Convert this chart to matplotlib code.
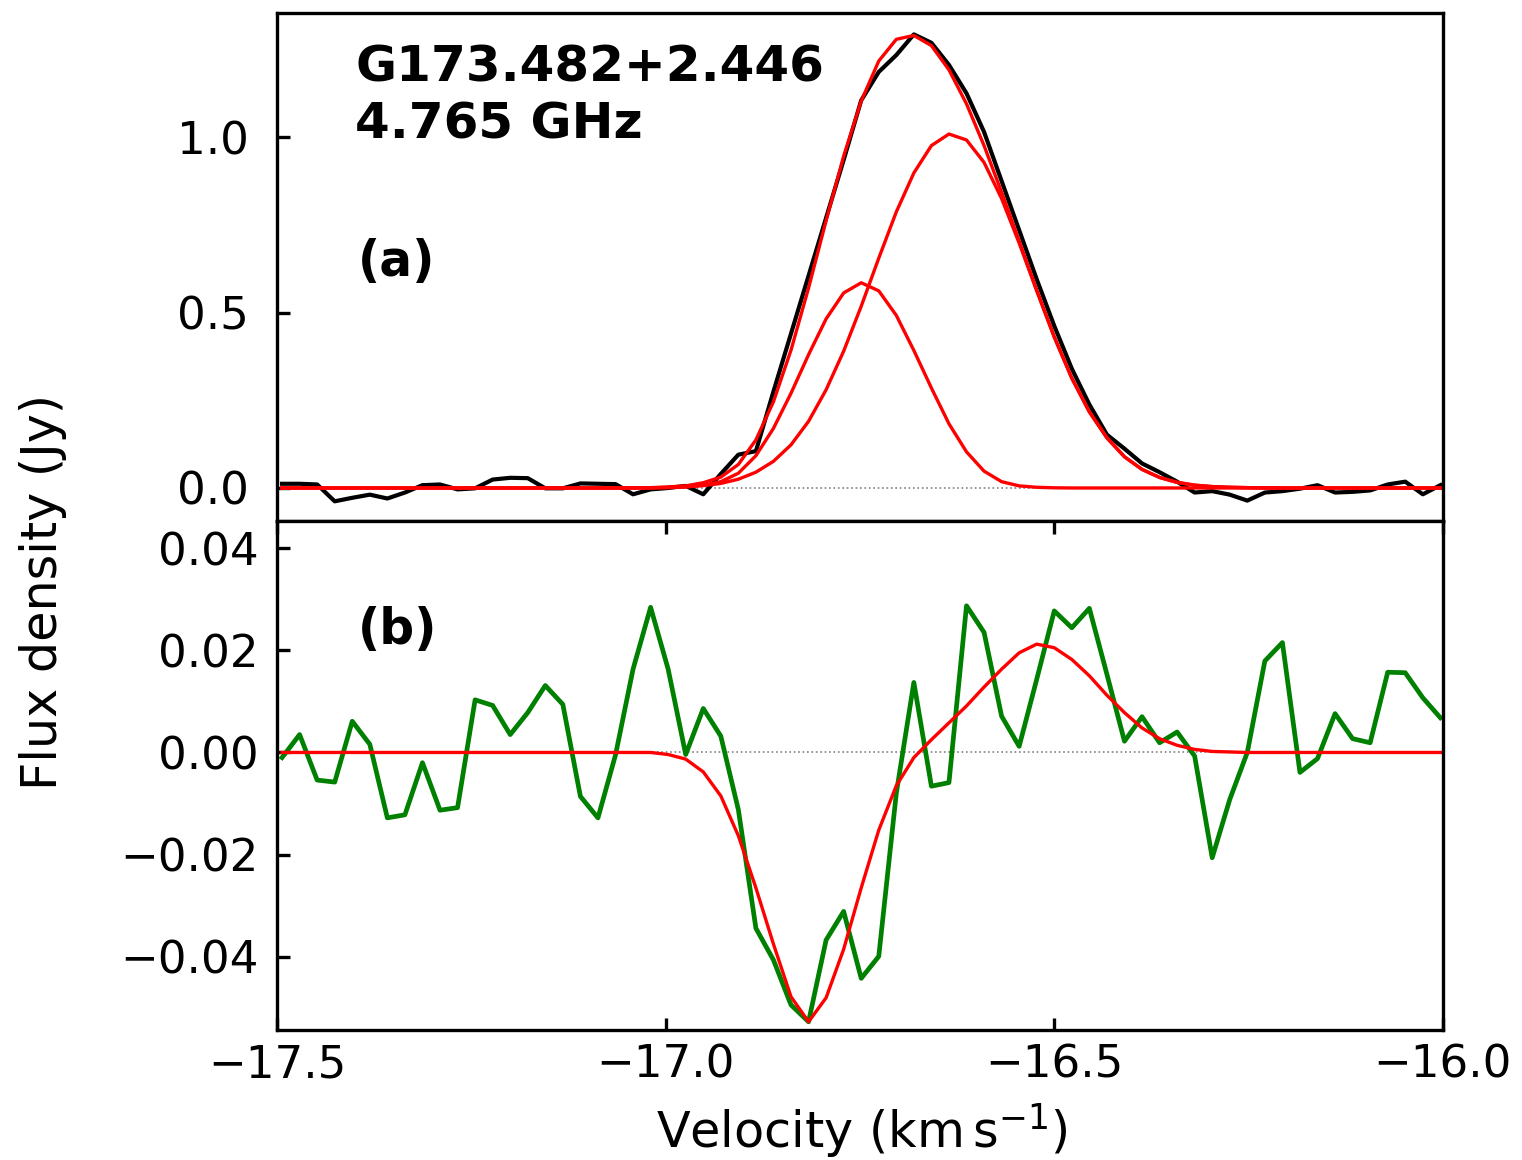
import numpy as np
import matplotlib
matplotlib.use('Agg')
import matplotlib.pyplot as plt

# channel grid
v0 = -17.4935
dv = 0.02258
nchan = 67

# (a) observed spectrum (Jy)
flux_obs = [0.012, 0.012, 0.010, -0.038, -0.028, -0.019, -0.030, -0.013, 0.008, 0.010,
            -0.004, -0.001, 0.024, 0.029, 0.028, -0.001, -0.001, 0.013, 0.012, 0.011,
            -0.018, -0.004, 0.000, 0.006, -0.018, 0.040, 0.095, 0.105, 0.275, 0.440,
            0.605, 0.770, 0.935, 1.105, 1.186, 1.234, 1.293, 1.269, 1.206, 1.125,
            1.015, 0.875, 0.735, 0.595, 0.462, 0.340, 0.238, 0.152, 0.112, 0.070,
            0.045, 0.018, -0.013, -0.009, -0.019, -0.036, -0.013, -0.009, -0.002, 0.008,
            -0.013, -0.011, -0.007, 0.010, 0.018, -0.018, 0.008]

# (a) gaussian fit components and their sum
comp1 = [0.0] * 22 + [0.001, 0.003, 0.008, 0.018, 0.042, 0.092, 0.170, 0.270, 0.380,
                      0.482, 0.556, 0.585, 0.562, 0.492, 0.392, 0.285, 0.183, 0.103,
                      0.048, 0.018, 0.006, 0.002, 0.0005] + [0.0] * 22
comp2 = [0.0] * 20 + [0.0003, 0.0006, 0.0015, 0.0032, 0.0067, 0.013, 0.025, 0.045, 0.076,
                      0.123, 0.190, 0.280, 0.390, 0.518, 0.655, 0.787, 0.898, 0.976,
                      1.009, 0.992, 0.928, 0.825, 0.698, 0.562, 0.430, 0.313, 0.217,
                      0.143, 0.089, 0.053, 0.030, 0.016, 0.008, 0.004, 0.002, 0.001,
                      0.0004] + [0.0] * 10
fit_total = [0.0] * 20 + [0.000, 0.001, 0.003, 0.006, 0.015, 0.031, 0.067, 0.137, 0.246,
                          0.393, 0.570, 0.762, 0.946, 1.103, 1.217, 1.279, 1.290, 1.261,
                          1.192, 1.095, 0.976, 0.843, 0.704, 0.564, 0.431, 0.313, 0.217,
                          0.143, 0.089, 0.053, 0.030, 0.016, 0.008, 0.004, 0.002, 0.001,
                          0.0] + [0.0] * 10

# (b) residual spectrum and its fit (Jy)
resid = [-0.0010, 0.0035, -0.0054, -0.0058, 0.0061, 0.0016, -0.0128, -0.0122, -0.0020, -0.0113,
         -0.0108, 0.0103, 0.0092, 0.0035, 0.0078, 0.0131, 0.0094, -0.0086, -0.0128, -0.0005,
         0.0163, 0.0284, 0.0163, -0.0004, 0.0086, 0.0032, -0.0112, -0.0344, -0.0406, -0.0494,
         -0.0527, -0.0367, -0.0311, -0.0442, -0.0399, -0.0080, 0.0137, -0.0066, -0.0059, 0.0287,
         0.0235, 0.0071, 0.0012, 0.0143, 0.0277, 0.0244, 0.0282, 0.0153, 0.0022, 0.0070,
         0.0019, 0.0040, -0.0007, -0.0206, -0.0092, 0.0000, 0.0179, 0.0215, -0.0039, -0.0012,
         0.0076, 0.0027, 0.0019, 0.0157, 0.0156, 0.0107, 0.0068]
resid_fit = [0.0] * 22 + [-0.0004, -0.0013, -0.0038, -0.0085, -0.0163, -0.0265, -0.0375,
                          -0.0478, -0.0527, -0.0480, -0.0385, -0.0265, -0.0152, -0.0065,
                          -0.0010, 0.0025, 0.0058, 0.0091, 0.0128, 0.0163, 0.0195, 0.0212,
                          0.0205, 0.0182, 0.0150, 0.0112, 0.0078, 0.0048, 0.0027, 0.0014,
                          0.0006, 0.0002, 0.0001] + [0.0] * 12

vel = v0 + dv * np.arange(nchan)

fig = plt.figure(figsize=(15.22, 11.6), dpi=100)
ax1 = fig.add_axes([0.182, 0.5509, 0.766, 0.4379])
ax2 = fig.add_axes([0.182, 0.1121, 0.766, 0.4388], sharex=ax1)

ax1.axhline(0, color='grey', ls=':', lw=1.2)
ax1.plot(vel, flux_obs, color='k', lw=3.0)
ax1.plot(vel, fit_total, color='r', lw=2.4)
ax1.plot(vel, comp1, color='r', lw=2.4)
ax1.plot(vel, comp2, color='r', lw=2.4)
ax1.set_ylim(-0.094, 1.354)
ax1.set_yticks([0.0, 0.5, 1.0])
ax1.text(0.067, 0.94, 'G173.482+2.446\n4.765 GHz', transform=ax1.transAxes,
         fontsize=36, fontweight='bold', va='top', ha='left', linespacing=1.25)
ax1.text(0.069, 0.51, '(a)', transform=ax1.transAxes, fontsize=35,
         fontweight='bold', va='center', ha='left')

ax2.axhline(0, color='grey', ls=':', lw=1.2)
ax2.plot(vel, resid, color='green', lw=3.4)
ax2.plot(vel, resid_fit, color='r', lw=2.4)
ax2.set_ylim(-0.0543, 0.0453)
ax2.set_yticks([-0.04, -0.02, 0.0, 0.02, 0.04])
ax2.set_xlim(-17.5, -16.0)
ax2.set_xticks([-17.5, -17.0, -16.5, -16.0])
ax2.text(0.069, 0.786, '(b)', transform=ax2.transAxes, fontsize=35,
         fontweight='bold', va='center', ha='left')

for ax in (ax1, ax2):
    for s in ax.spines.values():
        s.set_linewidth(2.4)
    ax.tick_params(direction='in', length=9, width=2.4, labelsize=32.5, pad=10)
ax1.tick_params(axis='x', bottom=False, labelbottom=False)
ax1.tick_params(axis='y', pad=20)
ax2.tick_params(axis='y', pad=13)
ax2.tick_params(axis='x', top=True, pad=10)

fig.text(0.028, 0.49, 'Flux density (Jy)', rotation=90, fontsize=35.5,
         ha='center', va='center')
fig.text(0.566, 0.025, r'Velocity (km$\,$s$^{-1}$)', fontsize=35.5,
         ha='center', va='center')

plt.savefig('out.png', dpi=100)
